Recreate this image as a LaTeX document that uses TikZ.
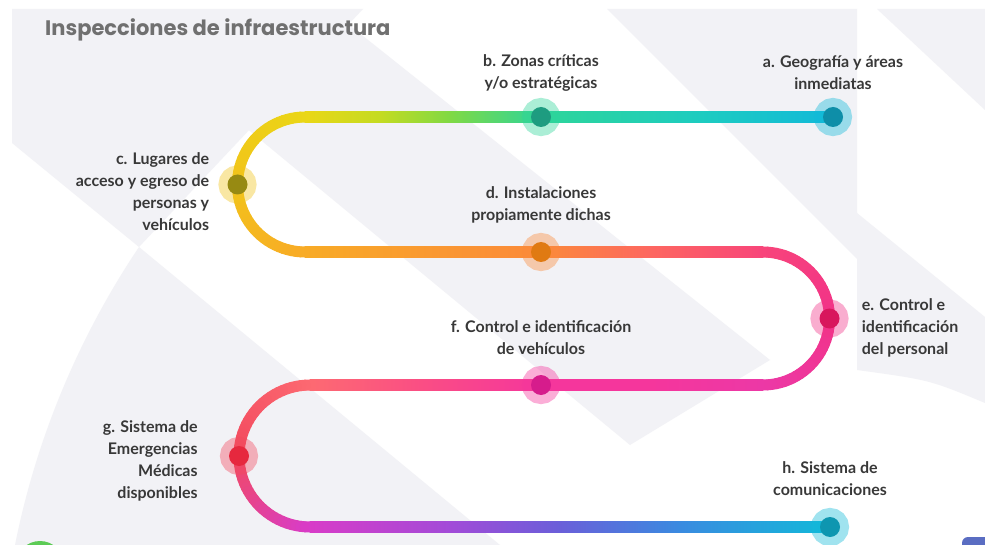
\documentclass[tikz,border=0pt]{standalone}
\usepackage{fontspec}
\setmainfont{Lato}
\newfontfamily\titlefont{Poppins}
\usetikzlibrary{positioning}

\definecolor{bgrey}{HTML}{F2F2F6}
\definecolor{txt}{HTML}{383838}
\definecolor{ttl}{HTML}{707070}
\definecolor{cornerblue}{HTML}{5A6DC2}
\definecolor{cornergreen}{HTML}{5CCB55}
% colours along the snake
\definecolor{cCyan}{HTML}{12B9D9}
\definecolor{cAqua}{HTML}{1DCCC0}
\definecolor{cMint}{HTML}{2ED59A}
\definecolor{cGreen}{HTML}{80D944}
\definecolor{cLime}{HTML}{C4DB22}
\definecolor{cYellow}{HTML}{EAD716}
\definecolor{cGold}{HTML}{F2C41A}
\definecolor{cAmber}{HTML}{F8AB26}
\definecolor{cTang}{HTML}{FA9A30}
\definecolor{cOrange}{HTML}{FB8A3A}
\definecolor{cCoral}{HTML}{FD6760}
\definecolor{cRose}{HTML}{F8457A}
\definecolor{cPink}{HTML}{F23388}
\definecolor{cMagPink}{HTML}{EC38A6}
\definecolor{cHot}{HTML}{F5369C}
\definecolor{cRosy}{HTML}{FA4E84}
\definecolor{cSalmon}{HTML}{FD6A72}
\definecolor{cRed}{HTML}{F24A5E}
\definecolor{cMagenta}{HTML}{D83CC8}
\definecolor{cPurple}{HTML}{A24BD8}
\definecolor{cViolet}{HTML}{6A5FD9}
\definecolor{cBlue}{HTML}{3A8BE0}
% dots
\definecolor{dA}{HTML}{0E8EA8}
\definecolor{dB}{HTML}{1E9C80}
\definecolor{dC}{HTML}{978A12}
\definecolor{dD}{HTML}{E07A12}
\definecolor{dE}{HTML}{D8165C}
\definecolor{dF}{HTML}{D61C8C}
\definecolor{dG}{HTML}{E6283E}
\definecolor{dH}{HTML}{0E96B0}

\tikzset{
  snake/.style={line width=11pt, line cap=round},
  station/.style 2 args={circle, inner sep=0pt, minimum size=20pt, fill=#1,
    preaction={draw=#2, draw opacity=.4, line width=18pt}},
  lbl/.style={font=\fontsize{16}{22}\selectfont\bfseries, text=txt, align=center, inner sep=0pt},
}

% straight piece of the snake: x1 x2 y colour1 colour2
\newcommand\straightbit[5]{\shade[left color=#4, right color=#5] (#1-0.3,#3-5.5) rectangle (#2+0.3,#3+5.5);}
% bent piece: cx cy r t0 t1 colour1 colour2
\newcommand\bendbit[7]{%
  \foreach \k in {1,...,24}{%
    \pgfmathsetmacro\ta{#4+(#5-#4)*(\k-1)/24}%
    \pgfmathsetmacro\tb{#4+(#5-#4)*\k/24}%
    \pgfmathtruncatemacro\pc{100*(\k-0.5)/24}%
    \draw[snake, draw=#7!\pc!#6] ({#1+#3*cos(\ta)},{#2+#3*sin(\ta)}) -- ({#1+#3*cos(\tb)},{#2+#3*sin(\tb)});
  }}

\begin{document}
\begin{tikzpicture}[x=1pt,y=-1pt]
\useasboundingbox (0,0) rectangle (985,545);
\fill[white] (0,0) rectangle (985,545);
% background
\begin{scope}
\clip (12,9) rectangle (985,545);
\fill[bgrey] (12,9) -- (363,9) -- (139,247) -- (12,143) -- cycle;
\fill[bgrey] (348,24) -- (770,360) -- (630,445) -- (245,127) -- cycle;
\fill[bgrey] (139,247) -- (500,545) -- (15,545) .. controls (40,420) and (90,320) .. (139,247);
\fill[bgrey] (607,9) -- (857,9) -- (857,259) -- cycle;
\fill[bgrey] (857,213) -- (985,317) -- (985,403) .. controls (930,380) .. (857,370) -- cycle;
\fill[bgrey] (877,9) -- (985,9) -- (985,110) -- cycle;
\fill[cornergreen] (40,565) circle[radius=24];
\fill[cornerblue, rounded corners=6] (962,537) rectangle (1000,575);
\end{scope}

% snake
\straightbit{305}{380}{117}{cYellow}{cLime}
\straightbit{380}{450}{117}{cLime}{cGreen}
\straightbit{450}{541}{117}{cGreen}{cMint}
\straightbit{541}{700}{117}{cMint}{cAqua}
\straightbit{700}{833}{117}{cAqua}{cCyan}
\bendbit{305}{184.5}{67.5}{270}{180}{cYellow}{cGold}
\bendbit{305}{184.5}{67.5}{180}{90}{cGold}{cAmber}
\straightbit{305}{420}{252}{cAmber}{cTang}
\straightbit{420}{541}{252}{cTang}{cOrange}
\straightbit{541}{650}{252}{cOrange}{cCoral}
\straightbit{650}{763}{252}{cCoral}{cRose}
\bendbit{763}{318.5}{66.5}{270}{360}{cRose}{cPink}
\bendbit{763}{318.5}{66.5}{360}{450}{cPink}{cMagPink}
\straightbit{650}{763}{385}{cHot}{cMagPink}
\straightbit{541}{650}{385}{cHot}{cHot}
\straightbit{420}{541}{385}{cRosy}{cHot}
\straightbit{310}{420}{385}{cSalmon}{cRosy}
\bendbit{310}{456}{71}{270}{180}{cSalmon}{cRed}
\bendbit{310}{456}{71}{180}{90}{cRed}{cMagenta}
\straightbit{310}{450}{527}{cMagenta}{cPurple}
\straightbit{450}{560}{527}{cPurple}{cViolet}
\straightbit{560}{680}{527}{cViolet}{cBlue}
\straightbit{680}{830}{527}{cBlue}{cCyan}

% stations
\node[station={dA}{cCyan}] (a) at (833,117) {};
\node[station={dB}{cMint}] (b) at (541,117) {};
\node[station={dC}{cGold}] (c) at (237.5,184.5) {};
\node[station={dD}{cOrange}] (d) at (541,252) {};
\node[station={dE}{cPink}] (e) at (829.5,318.5) {};
\node[station={dF}{cHot}] (f) at (541,385) {};
\node[station={dG}{cRed}] (g) at (239,456) {};
\node[station={dH}{cCyan}] (h) at (830,527) {};

% labels
\node[lbl, above=17pt of a] (la) {a. Geografía y áreas\\inmediatas};
\node[lbl, above=15pt of b] (lb) {b. Zonas críticas\\y/o estratégicas};
\node[lbl, align=right, left=18pt of c, yshift=-7pt] (lc) {c. Lugares de\\acceso y egreso de\\personas y\\vehículos};
\node[lbl, above=18pt of d] (ld) {d. Instalaciones\\propiamente dichas};
\node[lbl, align=left, right=22pt of e, yshift=-9pt] (le) {e. Control e\\identificación\\del personal};
\node[lbl, above=20pt of f] (lf) {f. Control e identificación\\de vehículos};
\node[lbl, align=right, left=31pt of g, yshift=-5pt] (lg) {g. Sistema de\\Emergencias\\Médicas\\disponibles};
\node[lbl, above=21pt of h] (lh) {h. Sistema de\\comunicaciones};

\node[font=\titlefont\bfseries\fontsize{21}{24}\selectfont, text=ttl, anchor=west, inner sep=0pt] (title) at (45,30) {Inspecciones de infraestructura};
\end{tikzpicture}
\end{document}
